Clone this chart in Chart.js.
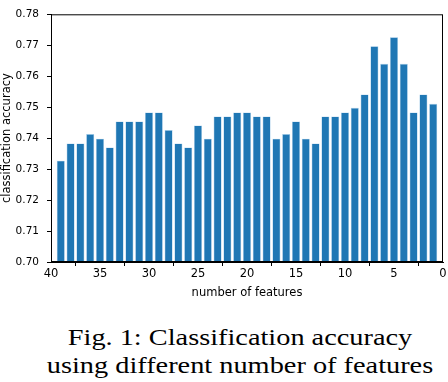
<!DOCTYPE html>
<html>
<head>
<meta charset="utf-8">
<script src="https://cdn.jsdelivr.net/npm/chart.js@4"></script>
<style>
  html, body { margin: 0; padding: 0; background: #fff; }
  #wrap { position: relative; width: 448px; height: 382px; overflow: hidden; }
  #chartBox { position: absolute; left: 0; top: 0; width: 448px; height: 300px; }
  #caption {
    position: absolute; left: 40px; top: 323px; width: 400px;
    text-align: center; font-family: "Liberation Serif", serif;
    font-size: 24px; line-height: 28px; color: #000; white-space: nowrap;
    transform: scaleX(1.18); transform-origin: 50% 0;
  }
</style>
</head>
<body>
<div id="wrap">
  <div id="chartBox"><canvas id="accChart"></canvas></div>
  <div id="caption">Fig. 1: Classification accuracy<br>using different number of features</div>
</div>
<script>
// number of features kept, from 39 down to 1
const numFeatures = [39, 38, 37, 36, 35, 34, 33, 32, 31, 30, 29, 28, 27, 26, 25, 24, 23, 22, 21, 20,
                     19, 18, 17, 16, 15, 14, 13, 12, 11, 10, 9, 8, 7, 6, 5, 4, 3, 2, 1];
const accuracy = [0.7327, 0.7383, 0.7383, 0.7413, 0.7398, 0.7370, 0.7454, 0.7454, 0.7454, 0.7483,
                  0.7483, 0.7426, 0.7383, 0.7370, 0.7441, 0.7398, 0.7470, 0.7470, 0.7483, 0.7483,
                  0.7470, 0.7470, 0.7398, 0.7413, 0.7454, 0.7398, 0.7383, 0.7470, 0.7470, 0.7483,
                  0.7498, 0.7541, 0.7697, 0.7640, 0.7726, 0.7640, 0.7483, 0.7541, 0.7511];
const xTicks = [0, 5, 10, 15, 20, 25, 30, 35, 40];
const yTicks = [0.70, 0.71, 0.72, 0.73, 0.74, 0.75, 0.76, 0.77, 0.78];

// top and right spines like matplotlib
const frame = {
  id: 'frame',
  afterDraw(chart) {
    const { ctx, chartArea: a } = chart;
    ctx.save();
    ctx.strokeStyle = '#000';
    ctx.lineWidth = 1;
    ctx.strokeRect(a.left + 0.5, a.top + 0.5, a.right - a.left - 1, a.bottom - a.top - 1);
    ctx.restore();
  }
};

new Chart(document.getElementById('accChart'), {
  type: 'bar',
  data: {
    datasets: [{
      data: numFeatures.map((n, i) => ({ x: n, y: accuracy[i] })),
      backgroundColor: '#1f77b4',
      borderColor: 'rgba(150,195,228,0.9)',
      borderWidth: 0.6,
      barPercentage: 0.82,
      categoryPercentage: 1
    }]
  },
  options: {
    responsive: true,
    maintainAspectRatio: false,
    animation: false,
    layout: { padding: { left: 0, right: 5, top: 6, bottom: 0 } },
    plugins: { legend: { display: false }, tooltip: { enabled: false } },
    scales: {
      x: {
        type: 'linear',
        reverse: true,
        offset: false,
        min: 0,
        max: 40,
        afterBuildTicks: s => { s.ticks = xTicks.map(v => ({ value: v })); },
        afterFit: s => { s.height = 38; },
        ticks: { color: '#000', font: { family: 'DejaVu Sans', size: 11.5 }, padding: 1, maxRotation: 0 },
        grid: { drawOnChartArea: false, drawTicks: true, tickLength: 4, color: '#000' },
        border: { display: true, color: '#000' },
        title: { display: true, text: 'number of features', color: '#000',
                 font: { family: 'DejaVu Sans', size: 11.5 }, padding: { top: 1, bottom: 0 } }
      },
      y: {
        min: 0.70,
        max: 0.78,
        afterBuildTicks: s => { s.ticks = yTicks.map(v => ({ value: v })); },
        afterFit: s => { s.width = 51; },
        ticks: { color: '#000', font: { family: 'DejaVu Sans', size: 10.5 }, padding: 8, callback: v => v.toFixed(2) },
        grid: { drawOnChartArea: false, drawTicks: true, tickLength: 4, color: '#000' },
        border: { display: true, color: '#000' },
        title: { display: true, text: 'classification accuracy', color: '#000',
                 font: { family: 'DejaVu Sans', size: 11.5 }, padding: { top: 0, bottom: 0 } }
      }
    }
  },
  plugins: [frame]
});
</script>
</body>
</html>
